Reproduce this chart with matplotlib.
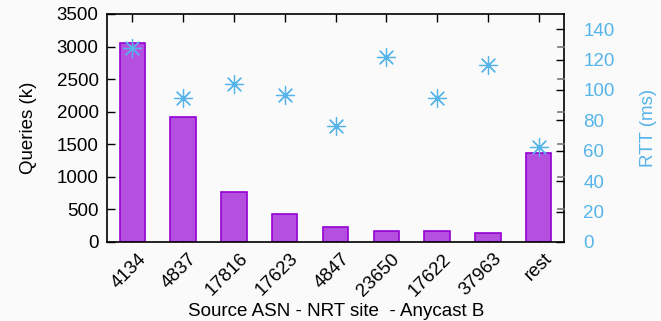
import matplotlib.pyplot as plt
import matplotlib.transforms as mtransforms
import numpy as np

asns = ["4134", "4837", "17816", "17623", "4847", "23650", "17622", "37963", "rest"]
queries_k = [3060, 1920, 775, 425, 230, 170, 165, 140, 1360]
rtt_ms = [127.5, 94.5, 104, 96.5, 76.5, 122, 95, 116.5, 62.5]

plt.rcParams['font.family'] = ['Liberation Sans', 'DejaVu Sans']
fs = 13.5

bar_fill = '#b54fe0'
bar_edge = '#9400d3'
rtt_color = '#56b4e9'
bg = '#fafafa'

fig = plt.figure(figsize=(6.61, 3.21), dpi=100, facecolor=bg)
ax = fig.add_axes([107 / 661, 1 - 242 / 321, 457 / 661, 228 / 321])
ax.set_facecolor(bg)

x = np.arange(len(asns))
ax.bar(x, queries_k, width=0.5, color=bar_fill, edgecolor=bar_edge, linewidth=1.2, zorder=2)
ax.set_xlim(-0.5, len(asns) - 0.5)
ax.set_ylim(0, 3500)
ax.set_yticks(np.arange(0, 3501, 500))
ax.set_xticks(x)
ax.set_xticklabels(asns, rotation=45, ha='right', rotation_mode='anchor')
ax.tick_params(axis='both', direction='in', length=6, width=1, top=True, right=False,
               labelsize=fs, pad=6)
ax.tick_params(axis='x', pad=6)
# nudge rotated labels right so they end past the tick
shift = mtransforms.ScaledTranslation(5 / 100, 0, fig.dpi_scale_trans)
for lbl in ax.get_xticklabels():
    lbl.set_transform(lbl.get_transform() + shift)
ax.set_ylabel("Queries (k)", fontsize=fs, labelpad=14)
fig.text(336 / 661, 5 / 321, "Source ASN - NRT site  - Anycast B", fontsize=fs,
         ha='center', va='baseline')
for s in ax.spines.values():
    s.set_linewidth(1.2)

# mirror the left ticks on the right edge, as grey inward stubs
for v in np.arange(500, 3500, 500):
    ax.plot([len(asns) - 0.5 - 0.12, len(asns) - 0.5], [v, v], color='#777777',
            lw=1.2, clip_on=False, zorder=3)

ax2 = ax.twinx()
ax2.set_ylim(0, 150)
ax2.set_yticks(np.arange(0, 141, 20))
ax2.scatter(x, rtt_ms, marker=(8, 2, 0), s=170, color=rtt_color, linewidths=0.9, zorder=4)
ax2.tick_params(axis='y', direction='in', length=6, width=1, colors='black',
                labelcolor=rtt_color, labelsize=fs, pad=14)
ax2.set_ylabel("RTT (ms)", color=rtt_color, fontsize=fs, labelpad=18)
for s in ax2.spines.values():
    s.set_visible(False)

fig.savefig("out.png", dpi=100, facecolor=bg)
